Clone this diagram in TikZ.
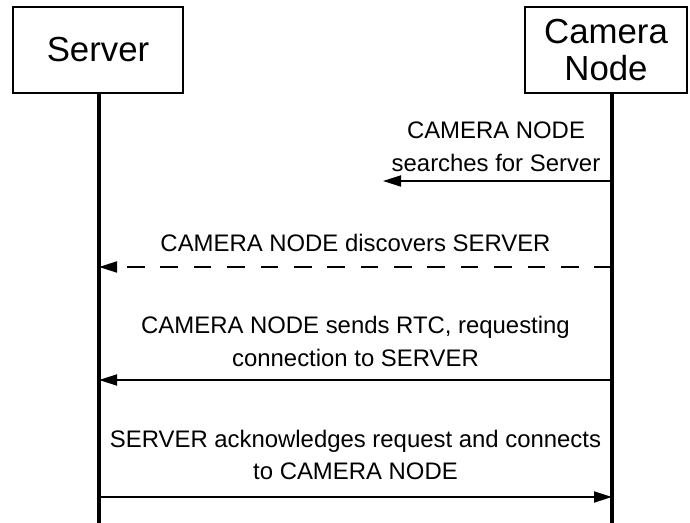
\documentclass[tikz,border=0pt]{standalone}
\usepackage{fontspec}
\setmainfont{Liberation Sans}
\usetikzlibrary{arrows.meta, calc, positioning}

\begin{document}
\begin{tikzpicture}[
        font=\fontsize{13.6}{18.7}\selectfont,
        actorbox/.style={
            draw,
            line width=0.6pt,
            minimum height=1.72cm,
            inner sep=0pt,
            align=center,
            font=\fontsize{19.8}{21}\selectfont
        },
        lifeline/.style={
            line width=2.2pt
        },
        msgline/.style={
            line width=1pt,
            -{Triangle[length=0.36cm,width=0.22cm]}
        },
        msglabel/.style={
            align=center,
            inner sep=0pt
        }
    ]
    \useasboundingbox (0,0) rectangle (13.8,-10.46);

    % actors
    \node[actorbox, minimum width=3.4cm] (server) at (1.96,-1.0) {Server};
    \node[actorbox, minimum width=3.24cm] (camera) at (12.12,-1.0) {Camera\\Node};

    % lifelines
    \coordinate (serverEnd) at (1.98,-10.46);
    \coordinate (cameraEnd) at (12.24,-10.46);
    \draw[lifeline] (server.south -| serverEnd) -- (serverEnd);
    \draw[lifeline] (camera.south -| cameraEnd) -- (cameraEnd);

    % message end points on the lifelines
    \coordinate (c1) at (12.24,-3.62);
    \coordinate (a1) at (7.66,-3.62);
    \coordinate (c2) at (12.24,-5.34);
    \coordinate (s2) at (1.98,-5.34);
    \coordinate (c3) at (12.24,-7.6);
    \coordinate (s3) at (1.98,-7.6);
    \coordinate (s4) at (1.98,-9.94);
    \coordinate (c4) at (12.24,-9.94);

    \node[msglabel] (search) at (9.92,-2.93) {CAMERA NODE\\searches for Server};
    \draw[msgline] (c1) -- (a1);

    \node[msglabel] (discover) at (7.11,-4.86) {CAMERA NODE discovers SERVER};
    \draw[msgline, dash pattern=on 10pt off 9pt] (c2) -- (s2);

    \node[msglabel] (request) at (7.11,-6.83)
        {CAMERA NODE sends RTC, requesting\\connection to SERVER};
    \draw[msgline] (c3) -- (s3);

    \node[msglabel] (connect) at (7.11,-9.1)
        {SERVER acknowledges request and connects\\to CAMERA NODE};
    \draw[msgline] (s4) -- (c4);

\end{tikzpicture}
\end{document}
